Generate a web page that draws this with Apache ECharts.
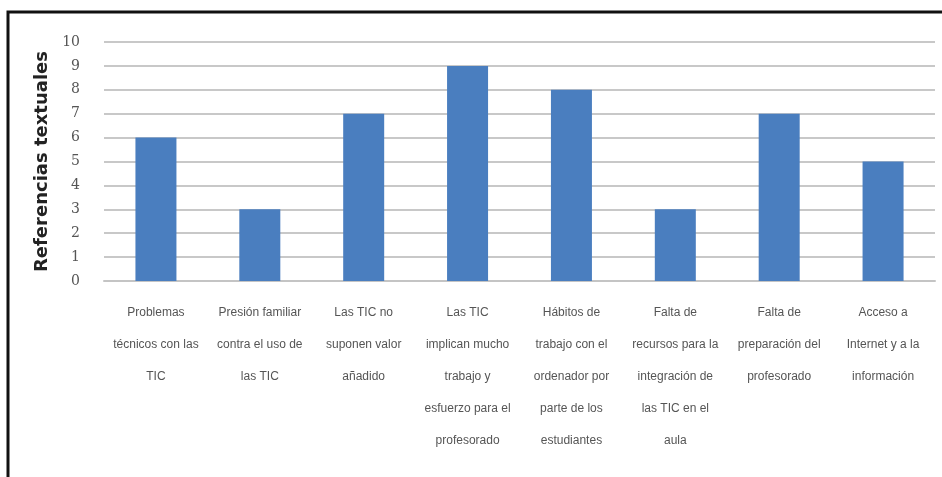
<!DOCTYPE html>
<html>
<head>
<meta charset="utf-8">
<script src="https://cdn.jsdelivr.net/npm/echarts@6/dist/echarts.min.js"></script>
<style>
  html, body { margin: 0; padding: 0; background: #fff; }
  #chart { width: 942px; height: 477px; }
</style>
</head>
<body>
<div id="chart"></div>
<script>
// categorías (con saltos de línea como en la figura)
const categories = [
  'Problemas\ntécnicos con las\nTIC',
  'Presión familiar\ncontra el uso de\nlas TIC',
  'Las TIC no\nsuponen valor\nañadido',
  'Las TIC\nimplican mucho\ntrabajo y\nesfuerzo para el\nprofesorado',
  'Hábitos de\ntrabajo con el\nordenador por\nparte de los\nestudiantes',
  'Falta de\nrecursos para la\nintegración de\nlas TIC en el\naula',
  'Falta de\npreparación del\nprofesorado',
  'Acceso a\nInternet y a la\ninformación'
]
const referencias = [6, 3, 7, 9, 8, 3, 7, 5]
const yTicks = { min: 0, max: 10, interval: 1 }

const chart = echarts.init(document.getElementById('chart'))

const option = {
  animation: false,
  backgroundColor: '#ffffff',
  grid: { left: 104, right: 7, top: 42, bottom: 196 },
  // marco negro (solo arriba e izquierda visibles)
  graphic: [
    {
      type: 'polyline',
      shape: { points: [[8, 477], [8, 12], [942, 12]] },
      style: { stroke: '#111', lineWidth: 3, fill: null }
    }
  ],
  xAxis: {
    type: 'category',
    data: categories,
    axisTick: { show: false },
    axisLine: { lineStyle: { color: '#c4c4c4', width: 2 } },
    axisLabel: {
      interval: 0,
      margin: 16,
      color: '#555',
      fontSize: 12,
      lineHeight: 32,
      fontFamily: '"Liberation Sans Narrow", "Arial Narrow", "Liberation Sans", sans-serif'
    }
  },
  yAxis: {
    type: 'value',
    min: yTicks.min,
    max: yTicks.max,
    interval: yTicks.interval,
    name: 'Referencias textuales',
    nameLocation: 'middle',
    nameGap: 47,
    nameTextStyle: {
      color: '#222',
      fontSize: 18,
      fontWeight: 'bold',
      fontFamily: '"DejaVu Sans", sans-serif'
    },
    axisLine: { show: false },
    axisTick: { show: false },
    axisLabel: {
      color: '#555',
      fontSize: 14,
      margin: 24,
      fontFamily: '"DejaVu Serif", serif'
    },
    splitLine: { lineStyle: { color: '#c8c8c8', width: 2 } }
  },
  series: [
    {
      type: 'bar',
      data: referencias,
      barWidth: 41,
      itemStyle: { color: '#4a7ebf' }
    }
  ]
}

chart.setOption(option)
</script>
</body>
</html>
